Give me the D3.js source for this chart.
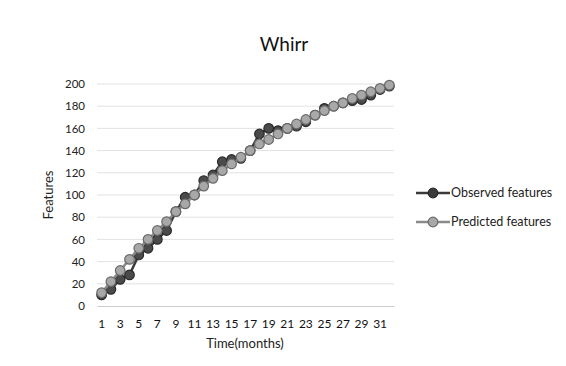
<!DOCTYPE html>
<html><head><meta charset="utf-8">
<script src="https://cdn.jsdelivr.net/npm/d3@7"></script>
<style>body{margin:0;background:#fff;}svg{display:block;}text{font-family:Lato,"Open Sans",sans-serif;}</style>
</head><body>
<svg id="c" width="566" height="366"></svg>
<script>
const months = d3.range(1, 33);
const observed = [10,15,24,28,46,52,60,68,85,98,100,113,118,130,132,133,140,155,160,158,160,162,166,172,178,180,183,185,186,190,195,198];
const predicted = [12,22,32,42,52,60,68,76,85,92,100,108,115,122,128,134,140,146,150,155,160,164,168,172,176,180,183,187,190,193,196,199];
const yTicks = [0,20,40,60,80,100,120,140,160,180,200];
const xTickLabels = months.filter(m => m % 2 === 1);

const svg = d3.select("#c");
const L = 97, R = 394, T = 84, B = 306;
const x = d3.scaleBand().domain(months).range([L, R]);
const y = d3.scaleLinear().domain([0, 200]).range([B, T]);

svg.append("g").selectAll("line").data(yTicks.filter(t => t > 0)).join("line")
  .attr("x1", L).attr("x2", R).attr("y1", d => y(d)).attr("y2", d => y(d))
  .attr("stroke", "#e2e2e2").attr("stroke-width", 1);

const yAxis = svg.append("g").attr("transform", `translate(${L},0)`)
  .call(d3.axisLeft(y).tickValues(yTicks).tickSize(0).tickPadding(12));
yAxis.select(".domain").remove();
yAxis.selectAll("text").attr("font-size", 11.5).attr("fill", "#222");

const xAxis = svg.append("g").attr("transform", `translate(0,${B})`)
  .call(d3.axisBottom(x).tickValues(xTickLabels).tickSize(0).tickPadding(13));
xAxis.select(".domain").attr("stroke", "#ccc");
xAxis.selectAll("text").attr("font-size", 12).attr("fill", "#111");

const cx = d => x(d) + x.bandwidth() / 2;
const line = d3.line().x((d, i) => cx(months[i])).y(d => y(d));

function drawSeries(vals, stroke, fill, mstroke) {
  svg.append("path").datum(vals).attr("d", line)
    .attr("fill", "none").attr("stroke", stroke).attr("stroke-width", 2.5);
  svg.append("g").selectAll("circle").data(vals).join("circle")
    .attr("cx", (d, i) => cx(months[i])).attr("cy", d => y(d)).attr("r", 4.8)
    .attr("fill", fill).attr("stroke", mstroke).attr("stroke-width", 1.2);
}
drawSeries(observed, "#3a3a3a", "#4a4a4a", "#2a2a2a");
drawSeries(predicted, "#8a8a8a", "#a8a8a8", "#6a6a6a");

svg.append("text").attr("x", 284).attr("y", 51).attr("text-anchor", "middle")
  .attr("font-size", 19).attr("fill", "#111").text("Whirr");
svg.append("text").attr("transform", "translate(53,195) rotate(-90)").attr("text-anchor", "middle")
  .attr("font-size", 13).attr("fill", "#222").text("Features");
svg.append("text").attr("x", 245).attr("y", 348).attr("text-anchor", "middle")
  .attr("font-size", 13).attr("fill", "#222").text("Time(months)");

const leg = [["Observed features", "#2a2a2a", "#3a3a3a"], ["Predicted features", "#6a6a6a", "#8a8a8a"]];
leg.forEach((d, i) => {
  const ly = 193 + i * 29;
  svg.append("line").attr("x1", 416).attr("x2", 450).attr("y1", ly).attr("y2", ly)
    .attr("stroke", d[2]).attr("stroke-width", 2.5);
  svg.append("circle").attr("cx", 433).attr("cy", ly).attr("r", 4.8)
    .attr("fill", i ? "#a8a8a8" : "#3a3a3a").attr("stroke", d[1]).attr("stroke-width", 1.2);
  svg.append("text").attr("x", 451).attr("y", ly + 4).attr("font-size", 12.5).attr("fill", "#222").text(d[0]);
});
</script>
</body></html>
